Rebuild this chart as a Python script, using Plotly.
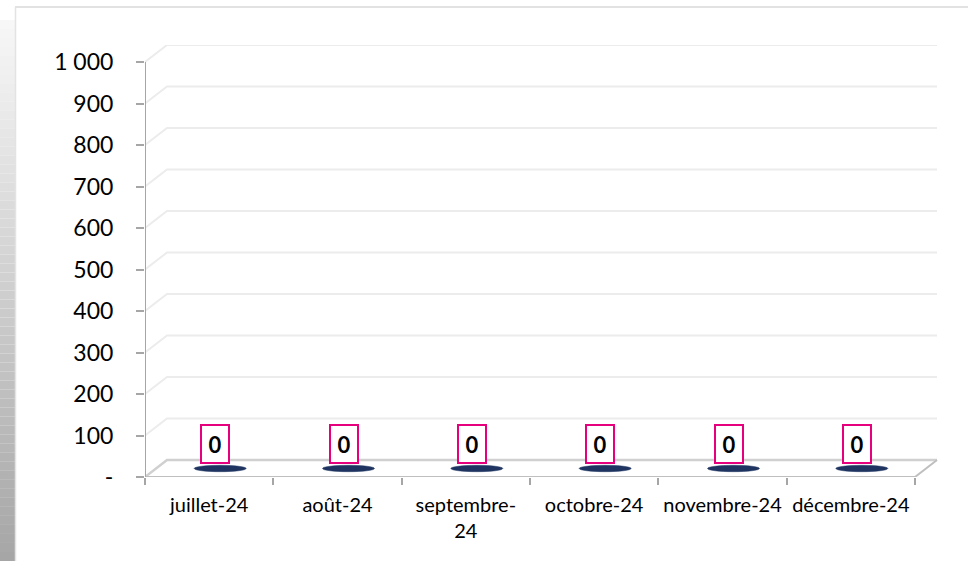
import plotly.graph_objects as go

# ---------------- data ----------------
months = ["juillet-24", "août-24", "septembre-24", "octobre-24", "novembre-24", "décembre-24"]
tick_labels = ["juillet-24", "août-24", "septembre-<br>24", "octobre-24", "novembre-24", "décembre-24"]
values = [0, 0, 0, 0, 0, 0]
y_tickvals = [0, 100, 200, 300, 400, 500, 600, 700, 800, 900, 1000]
y_ticktext = ["-", "100", "200", "300", "400", "500", "600", "700", "800", "900", "1 000"]

# ---------------- geometry (pixels) ----------------
W, H = 968, 561
PL, PR, PT, PB = 145, 940, 45, 477          # plot area in px
CAT_PX = (915 - 145) / 6                      # one category width in px
Y0_PX, Y1000_PX = 477, 62
UNIT_PX = (Y0_PX - Y1000_PX) / 1000.0         # px per value unit
DX_PX, DY_PX = 22, 17                         # 3D depth offset
DXc = DX_PX / CAT_PX
DYu = DY_PX / UNIT_PX
x_max = -0.5 + (PR - PL) / CAT_PX
y_max = (PB - PT) / UNIT_PX

def px_x(px):
    return (px - PL) / (PR - PL)

def px_y(py):
    return (PB - py) / (PB - PT)

FONT = "Lato, Open Sans, sans-serif"
shapes = []

# left grey gradient strip
n = 60
top, bot = 20, H
for k in range(n):
    ya = top + (bot - top) * k / n
    yb = top + (bot - top) * (k + 1) / n
    t = (k + 0.5) / n
    g = int(248 - (248 - 166) * t)
    shapes.append(dict(type="rect", xref="paper", yref="paper",
                       x0=px_x(0), x1=px_x(15), y0=px_y(yb), y1=px_y(ya),
                       line=dict(width=0), fillcolor=f"rgb({g},{g},{g})", layer="below"))
# outer frame lines
shapes.append(dict(type="line", xref="paper", yref="paper", x0=px_x(15), x1=px_x(W), y0=px_y(7), y1=px_y(7),
                   line=dict(color="#d9d9d9", width=1.5)))
shapes.append(dict(type="line", xref="paper", yref="paper", x0=px_x(15.5), x1=px_x(15.5), y0=px_y(7), y1=px_y(H),
                   line=dict(color="#e3e3e3", width=1.5)))

# back-wall gridlines (3D)
for v in y_tickvals[1:]:
    shapes.append(dict(type="path", xref="x", yref="y",
                       path=f"M {-0.5},{v} L {-0.5 + DXc},{v + DYu} L {5.5 + DXc},{v + DYu}",
                       line=dict(color="#ececec", width=2)))
# floor
shapes.append(dict(type="path", xref="x", yref="y",
                   path=f"M {-0.5},0 L {-0.5 + DXc},{DYu} L {5.5 + DXc},{DYu}",
                   line=dict(color="#d0d0d0", width=2.5)))
shapes.append(dict(type="path", xref="x", yref="y",
                   path=f"M {-0.5},0 L 5.5,0 L {5.5 + DXc},{DYu}",
                   line=dict(color="#bfbfbf", width=2)))
# front y axis line
shapes.append(dict(type="line", xref="x", yref="y", x0=-0.5, x1=-0.5, y0=0, y1=1000,
                   line=dict(color="#a6a6a6", width=2)))

# cylinder tops (zero height columns) and labels
annotations = []
for i, v in enumerate(values):
    cx = i + DXc / 2
    cy = v + DYu / 2
    hw = 26 / CAT_PX
    hh = 3.2 / UNIT_PX
    shapes.append(dict(type="circle", xref="x", yref="y",
                       x0=cx - hw, x1=cx + hw, y0=cy - hh, y1=cy + hh,
                       fillcolor="#1f3461", line=dict(color="#1f3461", width=0.5)))
    annotations.append(dict(x=i + 6 / CAT_PX, y=v + (Y0_PX - 443.5) / UNIT_PX, xref="x", yref="y",
                            text=f"<b>{v}</b>", showarrow=False,
                            font=dict(family=FONT, size=22, color="#000000"),
                            bgcolor="#ffffff", bordercolor="#e6007e", borderwidth=2,
                            borderpad=0, width=26, height=36, xanchor="center", yanchor="middle"))

fig = go.Figure()
fig.add_trace(go.Scatter(x=months, y=values, mode="markers",
                         marker=dict(size=1, color="rgba(0,0,0,0)"),
                         hoverinfo="x+y", showlegend=False))

fig.update_layout(
    width=W, height=H, autosize=False,
    margin=dict(l=PL, r=W - PR, t=PT, b=H - PB, pad=0, autoexpand=False),
    paper_bgcolor="#ffffff", plot_bgcolor="rgba(0,0,0,0)",
    shapes=shapes, annotations=annotations,
    showlegend=False,
    xaxis=dict(type="category", range=[-0.5, x_max], tickmode="array", tickvals=months, ticktext=tick_labels,
               tickson="boundaries", ticks="outside", ticklen=7, tickwidth=1.5, tickcolor="#a6a6a6",
               showgrid=False, zeroline=False, showline=False, tickangle=0, automargin=False,
               tickfont=dict(family=FONT, size=20, color="#000000"), ticklabelstandoff=14),
    yaxis=dict(range=[0, y_max], tickmode="array", tickvals=y_tickvals, ticktext=y_ticktext,
               ticks="outside", ticklen=8, tickwidth=2, tickcolor="#a6a6a6",
               showgrid=False, zeroline=False, showline=False, automargin=False,
               tickfont=dict(family=FONT, size=23, color="#000000"), ticklabelstandoff=18),
)

fig.write_html("out.html",
               config=dict(displayModeBar=False, responsive=False),
               post_script="document.body.style.margin='0';document.body.style.overflow='hidden';")
